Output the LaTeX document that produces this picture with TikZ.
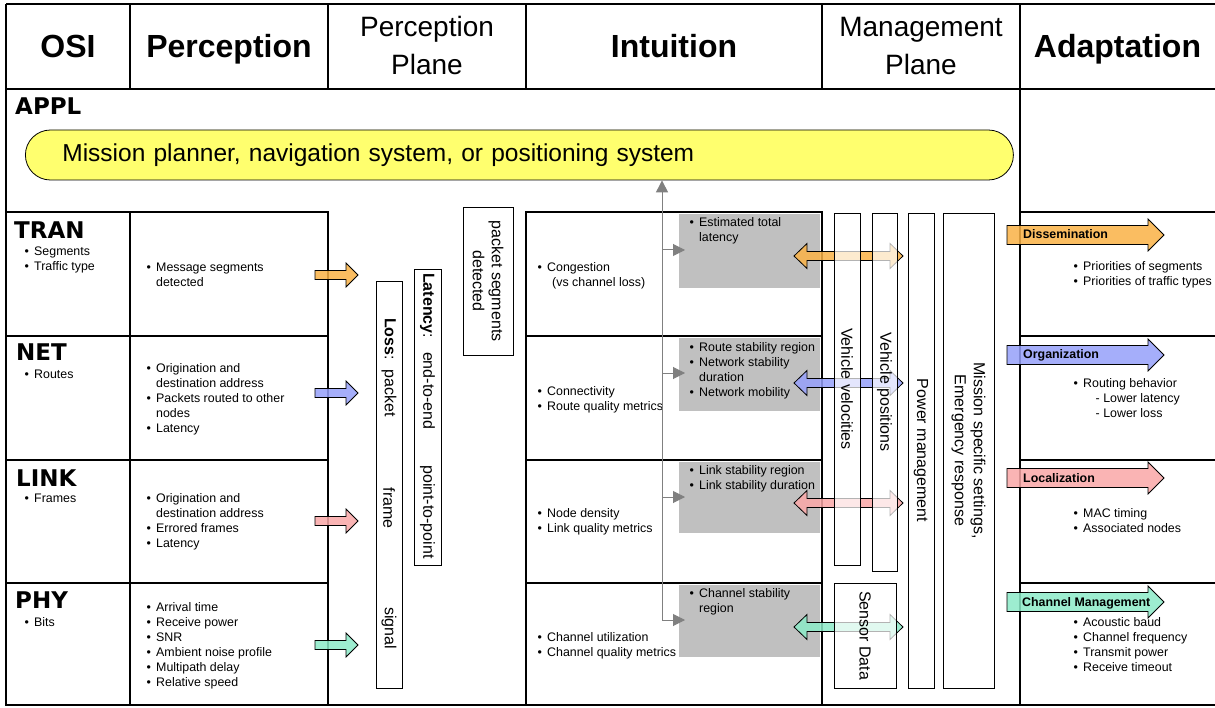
\documentclass[tikz,border=0pt]{standalone}
\usepackage{fontspec}
\setmainfont{Liberation Sans}
\newfontfamily\heavyfont{DejaVu Sans}
\usetikzlibrary{arrows.meta,positioning}

\definecolor{tranorange}{RGB}{250,178,70}
\definecolor{netblue}{RGB}{150,160,250}
\definecolor{linkpink}{RGB}{250,168,168}
\definecolor{phygreen}{RGB}{140,235,200}
\definecolor{pillyellow}{RGB}{255,255,110}
\definecolor{boxgray}{RGB}{192,192,192}

\newcommand{\smallfont}{\fontsize{12.4}{15}\selectfont}
\newcommand{\rotfont}{\fontsize{16}{19}\selectfont}
\newcommand{\bl}{\makebox[9.5pt][l]{\textbullet}}
\newcommand{\ind}{\hspace*{9.5pt}}
% right block arrow: style, x start, x tip, y, shaft half, head half, head length
\newcommand{\rarrow}[7]{\draw[#1] (#2,#4-#5) -- (#3-#7,#4-#5) -- (#3-#7,#4-#6) -- (#3,#4) -- (#3-#7,#4+#6) -- (#3-#7,#4+#5) -- (#2,#4+#5) -- cycle;}
% double block arrow: style, x left tip, x right tip, y, shaft half, head half, head length
\newcommand{\darrow}[7]{\draw[#1] (#2,#4) -- (#2+#7,#4-#6) -- (#2+#7,#4-#5) -- (#3-#7,#4-#5) -- (#3-#7,#4-#6) -- (#3,#4) -- (#3-#7,#4+#6) -- (#3-#7,#4+#5) -- (#2+#7,#4+#5) -- (#2+#7,#4+#6) -- cycle;}

\begin{document}
\begin{tikzpicture}[x=1pt, y=-1pt]
    \tikzstyle{tableline} = [line width=2.4pt]
    \tikzstyle{txt} = [anchor=base west, align=left, inner sep=0pt, font=\smallfont]
    \tikzstyle{title} = [anchor=base, align=center, inner sep=0pt]
    \tikzstyle{osi} = [anchor=base west, inner sep=0pt, font=\heavyfont\bfseries\fontsize{23}{23}\selectfont]
    \tikzstyle{graybox} = [fill=boxgray, inner sep=0pt, anchor=north west, minimum width=141pt]
    \tikzstyle{vbox} = [draw, line width=0.8pt, fill=white, fill opacity=0.7, text opacity=1, rotate=-90, inner sep=0pt, align=center, font=\rotfont]
    \tikzstyle{pbox} = [draw, line width=0.8pt, fill=white, rotate=-90, inner sep=0pt, align=center, font=\rotfont]
    \tikzstyle{rtxt} = [rotate=-90, inner sep=0pt, font=\rotfont]
    \tikzstyle{line} = [draw=gray, line width=1pt, -{Triangle[length=12pt,width=12pt]}]
    \tikzstyle{barrow} = [draw, line width=0.8pt, fill opacity=0.85]
    \tikzstyle{alabel} = [anchor=base west, inner sep=0pt, font=\smallfont\bfseries]
    \tikzstyle{pill} = [draw, line width=0.8pt, fill=pillyellow, rounded corners=25pt, anchor=west, minimum height=50pt, text width=914pt, inner xsep=37pt, inner ysep=0pt, align=left, font=\fontsize{24.5}{28}\selectfont]

    \path[use as bounding box, fill=white] (0,0) rectangle (1215,708);

    % header (multi-line texts sit on the baseline of their last line)
    \node[title, font=\fontsize{32}{35}\selectfont\bfseries] (hosi) at (68,58) {OSI};
    \node[title, font=\fontsize{32}{35}\selectfont\bfseries] (hperc) at (229,58) {Perception};
    \node[title, font=\fontsize{28}{38}\selectfont] (hpplane) at (427,75) {Perception\\Plane};
    \node[title, font=\fontsize{32}{35}\selectfont\bfseries] (hint) at (674,58) {Intuition};
    \node[title, font=\fontsize{28}{38}\selectfont] (hmplane) at (921,75) {Management\\Plane};
    \node[title, font=\fontsize{32}{35}\selectfont\bfseries] (hadapt) at (1117.5,58) {Adaptation};

    % application layer
    \node[osi] (appl) at (15,115) {APPL};
    \node[pill] (mission) at (25,155) {Mission planner, navigation system, or positioning system};

    % table
    \draw[tableline] (6,4) -- (1215,4);
    \draw[tableline] (6,89) -- (1215,89);
    \draw[tableline] (6,4) -- (6,705) -- (1215,705);
    \foreach \x in {130,328,526,822,1020}
        \draw[tableline] (\x,4) -- (\x,89);
    \draw[tableline] (1020,89) -- (1020,705);
    \foreach \y in {212,336,460,583}
        \draw[tableline] (1020,\y) -- (1215,\y);
    \draw[tableline] (6,212) rectangle (328,705);
    \draw[tableline] (130,212) -- (130,705);
    \draw[tableline] (526,212) rectangle (822,705);
    \foreach \y in {336,460,583} {
        \draw[tableline] (6,\y) -- (328,\y);
        \draw[tableline] (526,\y) -- (822,\y);
    }

    % OSI layers
    \node[osi] (tran) at (14,239) {TRAN};
    \node[osi] (net) at (16,360) {NET};
    \node[osi] (link) at (16,486) {LINK};
    \node[osi] (phy) at (15,608) {PHY};
    \node[txt] (tranosi) at (24.5,271) {\bl Segments\\\bl Traffic type};
    \node[txt] (netosi) at (24.5,378) {\bl Routes};
    \node[txt] (linkosi) at (24.5,502) {\bl Frames};
    \node[txt] (phyosi) at (24.5,626) {\bl Bits};

    % perception
    \node[txt] (tranperc) at (146.5,287) {\bl Message segments\\\ind detected};
    \node[txt] (netperc) at (146.5,432) {\bl Origination and\\\ind destination address\\\bl Packets routed to other\\\ind nodes\\\bl Latency};
    \node[txt] (linkperc) at (146.5,547) {\bl Origination and\\\ind destination address\\\bl Errored frames\\\bl Latency};
    \node[txt] (phyperc) at (146.5,686) {\bl Arrival time\\\bl Receive power\\\bl SNR\\\bl Ambient noise profile\\\bl Multipath delay\\\bl Relative speed};

    % intuition
    \node[graybox, minimum height=74pt] (gtran) at (679,214) {};
    \node[graybox, minimum height=73pt] (gnet) at (679,338) {};
    \node[graybox, minimum height=71pt] (glink) at (679,462) {};
    \node[graybox, minimum height=72pt] (gphy) at (679,585) {};
    \node[txt] (tranint) at (537.5,287) {\bl Congestion\\\hspace*{14.5pt}(vs channel loss)};
    \node[txt] (netint) at (537.5,410) {\bl Connectivity\\\bl Route quality metrics};
    \node[txt] (linkint) at (537.5,532) {\bl Node density\\\bl Link quality metrics};
    \node[txt] (phyint) at (537.5,656) {\bl Channel utilization\\\bl Channel quality metrics};
    \node[txt] (trangray) at (689.5,242) {\bl Estimated total\\\ind latency};
    \node[txt] (netgray) at (689.5,396) {\bl Route stability region\\\bl Network stability\\\ind duration\\\bl Network mobility};
    \node[txt] (linkgray) at (689.5,489) {\bl Link stability region\\\bl Link stability duration};
    \node[txt] (phygray) at (689.5,612) {\bl Channel stability\\\ind region};

    \coordinate (jtran) at (662,250);
    \coordinate (jnet) at (662,373);
    \coordinate (jlink) at (662,497);
    \coordinate (jphy) at (662,620);
    \path[line] (jphy) -- (jphy |- mission.south);
    \foreach \j/\g in {jtran/gtran, jnet/gnet, jlink/glink, jphy/gphy}
        \path[line, shorten >=-6pt] (\j) -- (\j -| \g.west);

    % adaptation
    \node[txt] (tranadapt) at (1073.5,286) {\bl Priorities of segments\\\bl Priorities of traffic types};
    \node[txt] (netadapt) at (1073.5,417) {\bl Routing behavior\\\hspace*{22pt}- Lower latency\\\hspace*{22pt}- Lower loss};
    \node[txt] (linkadapt) at (1073.5,532) {\bl MAC timing\\\bl Associated nodes};
    \node[txt] (phyadapt) at (1073.5,671) {\bl Acoustic baud\\\bl Channel frequency\\\bl Transmit power\\\bl Receive timeout};

    % block arrows
    \rarrow{barrow, fill=tranorange}{315}{358}{275}{4.5}{12}{12}
    \rarrow{barrow, fill=netblue}{315}{358}{393}{4.5}{12}{12}
    \rarrow{barrow, fill=linkpink}{315}{358}{521}{4.5}{12}{12}
    \rarrow{barrow, fill=phygreen}{315}{358}{645}{4.5}{12}{12}
    \rarrow{barrow, fill=tranorange}{1007}{1164}{235}{9.5}{16}{16}
    \rarrow{barrow, fill=netblue}{1007}{1164}{355}{9.5}{16}{16}
    \rarrow{barrow, fill=linkpink}{1007}{1164}{478}{9.5}{16}{16}
    \rarrow{barrow, fill=phygreen}{1007}{1164}{602}{9.5}{16}{16}
    \node[alabel] (dissem) at (1023,239) {Dissemination};
    \node[alabel] (organ) at (1023,359) {Organization};
    \node[alabel] (local) at (1023,482) {Localization};
    \node[alabel] (chanman) at (1022,606) {Channel Management};

    \darrow{barrow, fill=tranorange}{794}{903}{256}{4.5}{12.5}{13}
    \darrow{barrow, fill=netblue}{794}{903}{383}{4.5}{12.5}{13}
    \darrow{barrow, fill=linkpink}{794}{903}{503}{4.5}{12.5}{13}
    \darrow{barrow, fill=phygreen}{794}{903}{627}{4.5}{12.5}{13}

    % management plane
    \node[vbox, minimum width=352pt, minimum height=26pt] (vvel) at (847,389) {Vehicle velocities};
    \node[vbox, minimum width=358pt, minimum height=25pt] (vpos) at (884.5,392) {Vehicle positions};
    \node[vbox, minimum width=475pt, minimum height=26pt] (power) at (921,450.5) {Power management};
    \node[vbox, minimum width=475pt, minimum height=51pt] (settings) at (968.5,450.5) {Mission specific settings,\\Emergency response};
    \node[vbox, minimum width=105pt, minimum height=62pt] (sensor) at (865,635.5) {Sensor Data};

    % perception plane
    \node[pbox, minimum width=407pt, minimum height=26pt] (loss) at (389,484.5) {};
    \node[pbox, minimum width=296pt, minimum height=27pt] (latency) at (427.5,417) {};
    \node[pbox, minimum width=148pt, minimum height=50pt] (psegs) at (488,281) {packet segments\\detected};
    \node[rtxt, anchor=west] (lossa) at (389,318) {\textbf{Loss}:\hspace{10pt}packet};
    \node[rtxt] (lossb) at (389,508) {frame};
    \node[rtxt] (lossc) at (389,628) {signal};
    \node[rtxt, anchor=west] (lata) at (427.5,273) {\textbf{Latency}:\hspace{14pt}end-to-end};
    \node[rtxt] (latb) at (427.5,512) {point-to-point};
\end{tikzpicture}
\end{document}
